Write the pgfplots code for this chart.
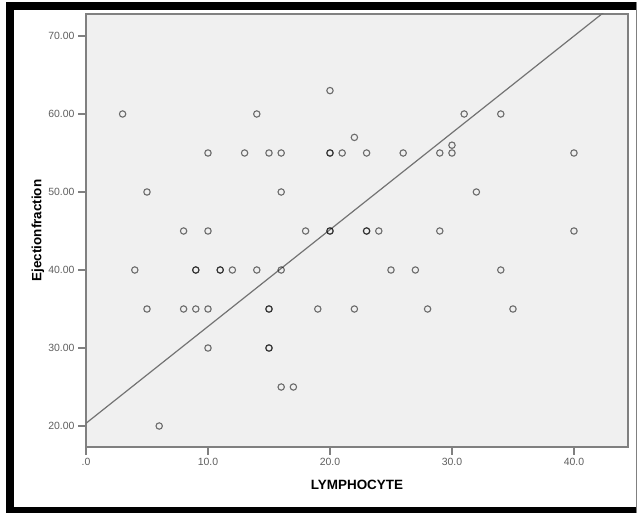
\documentclass[border=0pt]{standalone}
\usepackage{pgfplots}
\pgfplotsset{compat=1.18}
\usepackage{fontspec}
\setmainfont{Liberation Sans}
\definecolor{bgplot}{RGB}{240,240,240}
\definecolor{axgray}{RGB}{128,128,128}
\definecolor{tickgray}{RGB}{95,95,95}
\begin{document}
\begin{tikzpicture}[x=1bp,y=1bp]
\useasboundingbox (0,0) rectangle (637,513);
\fill[white] (0,0) rectangle (637,513);
% outer frame
\fill[black] (6,0) rectangle (14,511);
\fill[black] (6,503) rectangle (637,511);
\fill[black] (6,0) rectangle (637,6);
\draw[gray,line width=0.8bp] (636.4,0) -- (636.4,511);
\begin{axis}[
  at={(86bp,66bp)}, anchor=south west,
  scale only axis, width=542bp, height=433bp,
  xmin=0, xmax=44.43, ymin=17.31, ymax=72.82,
  axis background/.style={fill=bgplot},
  axis line style={axgray, line width=1.3bp},
  every tick/.style={axgray, line width=1.3bp},
  tick align=outside, major tick length=8bp,
  xtick pos=left, ytick pos=left,
  xtick={0,10,20,30,40}, xticklabels={.0,10.0,20.0,30.0,40.0},
  ytick={20,30,40,50,60,70}, yticklabels={20.00,30.00,40.00,50.00,60.00,70.00},
  /pgf/number format/assume math mode=true,
  tick label style={font=\fontsize{10.5}{12}\selectfont, text=tickgray},
  xlabel={LYMPHOCYTE}, ylabel={Ejectionfraction},
  label style={font=\fontsize{13.5}{15}\selectfont\bfseries},
  xlabel style={at={(axis description cs:0.5,0)}, anchor=center, yshift=-38bp},
  ylabel style={at={(axis description cs:0,0.5)}, anchor=center, rotate=0, yshift=48bp},
  clip=true,
]
\addplot[only marks, mark=o, mark size=3.2bp,
  mark options={draw=black, draw opacity=0.55, line width=1.1bp}] coordinates {
(3,60) (14,60) (20,63) (31,60) (34,60) (22,57) (30,56)
(10,55) (13,55) (15,55) (16,55) (20,55) (20,55) (21,55) (23,55) (26,55) (29,55) (30,55) (40,55)
(5,50) (16,50) (32,50)
(8,45) (10,45) (18,45) (20,45) (20,45) (23,45) (23,45) (24,45) (29,45) (40,45)
(4,40) (9,40) (9,40) (11,40) (11,40) (12,40) (14,40) (16,40) (25,40) (27,40) (34,40)
(5,35) (8,35) (9,35) (10,35) (15,35) (15,35) (19,35) (22,35) (28,35) (35,35)
(10,30) (15,30) (15,30)
(16,25) (17,25)
(6,20)
};
\addplot[draw=black!55, line width=1.2bp] coordinates {(0,20.35) (44.43,75.49)};
\end{axis}
\end{tikzpicture}
\end{document}
